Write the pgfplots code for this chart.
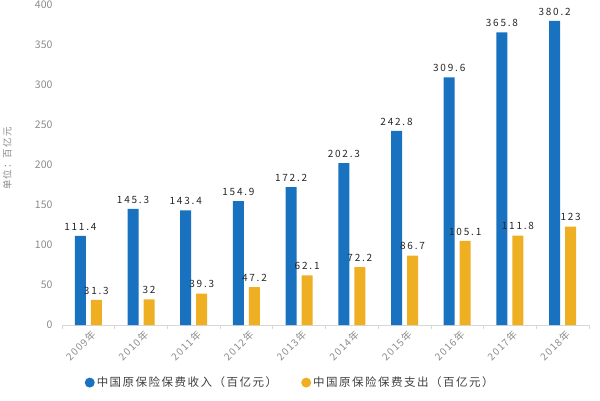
\documentclass[border=0pt]{standalone}
\usepackage{fontspec}
\setmainfont{Noto Sans CJK SC}
\usepackage{pgfplots}
\pgfplotsset{compat=1.18}
\definecolor{incblue}{RGB}{24,114,192}
\definecolor{payorg}{RGB}{238,176,34}
\definecolor{tickgray}{RGB}{140,140,140}
\definecolor{basegray}{RGB}{215,215,215}

\begin{document}
\begin{tikzpicture}
\useasboundingbox (-62pt,-75pt) rectangle (538pt,325pt);
\begin{axis}[
  at={(0pt,0pt)}, anchor=south west,
  scale only axis, width=527pt, height=320pt,
  ybar=5pt, bar width=11pt,
  xmin=-0.5, xmax=9.5, ymin=0, ymax=400,
  ytick={0,50,...,400},
  xtick={0,...,9},
  xticklabels={2009年,2010年,2011年,2012年,2013年,2014年,2015年,2016年,2017年,2018年},
  minor xtick={-0.5,0.5,...,9.5},
  major tick length=0pt, minor tick length=4pt,
  minor tick style={basegray, line width=0.6pt},
  axis x line*=bottom, axis y line*=left,
  x axis line style={basegray, line width=0.8pt, -},
  y axis line style={draw=none},
  /pgf/number format/assume math mode=true,
  tick label style={font=\fontsize{10.5}{11}\selectfont, text=tickgray},
  yticklabel style={xshift=-6pt},
  xticklabel style={rotate=45, anchor=north east, xshift=2pt, yshift=-1pt,
    font=\fontsize{10}{11}\selectfont\addfontfeature{LetterSpace=12}},
  ylabel={单位：百亿元},
  ylabel style={font=\fontsize{9.5}{10}\selectfont\addfontfeature{LetterSpace=12}, text=tickgray, at={(axis description cs:-0.104,0.52)}, anchor=center},
  nodes near coords,
  every node near coord/.append style={font=\fontsize{10}{11}\selectfont\addfontfeature{LetterSpace=18}, text=black!85, yshift=2pt},
  legend style={at={(0.433,-0.18)}, anchor=center, draw=none, fill=none,
    legend columns=2, font=\fontsize{11.5}{12}\selectfont\addfontfeature{LetterSpace=13}, text=black!75,
    /tikz/every even column/.append style={column sep=22pt}},
  legend image code/.code={\fill[#1] (0.15cm,0cm) circle (5pt);},
]
\addplot[fill=incblue, draw=none] coordinates {
  (0,111.4) (1,145.3) (2,143.4) (3,154.9) (4,172.2)
  (5,202.3) (6,242.8) (7,309.6) (8,365.8) (9,380.2)};
\addlegendentry{中国原保险保费收入（百亿元）}
\addplot[fill=payorg, draw=none] coordinates {
  (0,31.3) (1,32) (2,39.3) (3,47.2) (4,62.1)
  (5,72.2) (6,86.7) (7,105.1) (8,111.8) (9,123)};
\addlegendentry{中国原保险保费支出（百亿元）}
\end{axis}
\end{tikzpicture}
\end{document}
